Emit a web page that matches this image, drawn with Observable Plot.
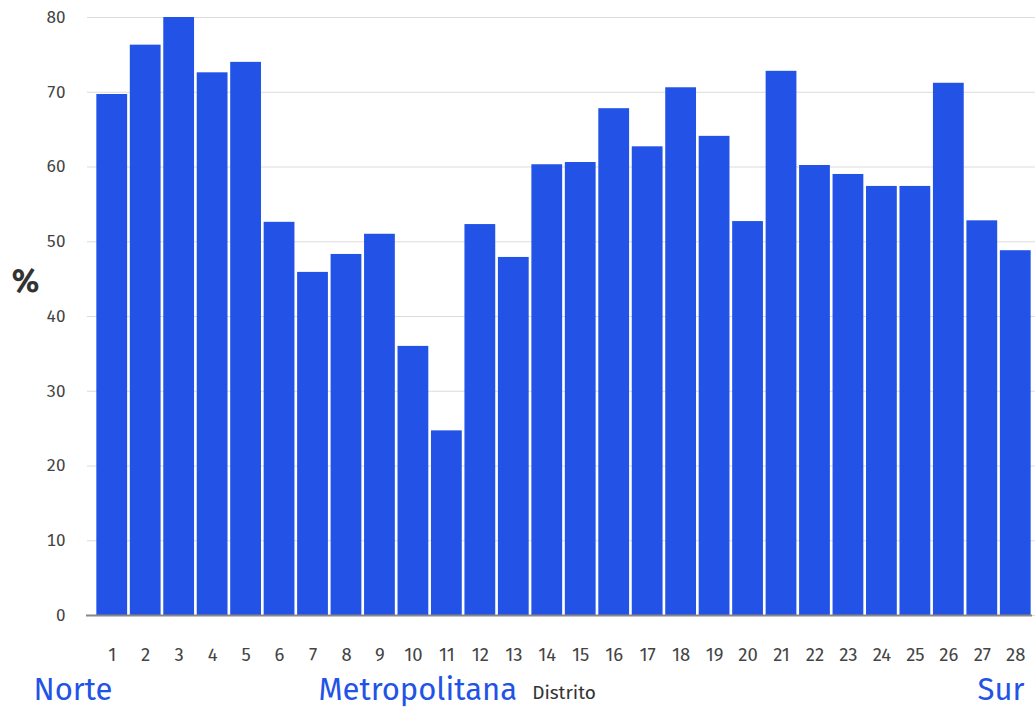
<!DOCTYPE html>
<html>
<head>
<meta charset="utf-8">
<script src="https://cdn.jsdelivr.net/npm/d3@7"></script>
<script src="https://cdn.jsdelivr.net/npm/@observablehq/plot@0.6"></script>
<style>
  html, body { margin: 0; padding: 0; background: #fff; }
  #chart { width: 1035px; height: 709px; }
  svg { font-family: "Fira Sans", Roboto, "Open Sans", sans-serif; }
</style>
</head>
<body>
<div id="chart"></div>
<script>
const distritos = [1,2,3,4,5,6,7,8,9,10,11,12,13,14,15,16,17,18,19,20,21,22,23,24,25,26,27,28];
const valores = [69.7,76.3,80.0,72.6,74.0,52.6,45.9,48.3,51.0,36.0,24.7,52.3,47.9,60.3,60.6,67.8,62.7,70.6,64.1,52.7,72.8,60.2,59.0,57.4,57.4,71.2,52.8,48.8];
const yTicks = [0,10,20,30,40,50,60,70,80];
const regiones = ["Norte", "Metropolitana", "Sur"];
const xLabel = "Distrito";
const yLabel = "%";

const data = distritos.map((d, i) => ({distrito: d, valor: valores[i]}));
const blue = "#2253e6";

const chart = Plot.plot({
  width: 1035,
  height: 709,
  marginLeft: 95,
  marginRight: 3,
  marginTop: 17,
  marginBottom: 94,
  style: {fontFamily: "'Fira Sans', Roboto, 'Open Sans', sans-serif", color: "#444", background: "#fff"},
  x: {domain: distritos, paddingInner: 0.08, paddingOuter: 0.04, round: false, label: null},
  y: {domain: [0, 80], label: null},
  marks: [
    Plot.gridY(yTicks, {stroke: "#dcdcdc", strokeOpacity: 1, strokeWidth: 1, insetLeft: -8, insetRight: -3}),
    Plot.barY(data, {x: "distrito", y: "valor", fill: blue}),
    Plot.ruleY([0], {stroke: "#888", strokeWidth: 2, insetLeft: -9}),
    Plot.axisY(yTicks, {tickSize: 0, tickPadding: 30, fontSize: 17, label: null, fill: "#444"}),
    Plot.axisX({tickSize: 0, tickPadding: 32, fontSize: 18.5, label: null, fill: "#444"}),
    Plot.text([yLabel], {frameAnchor: "left", dx: -70, dy: -35, fontSize: 32, fontWeight: "bold", fill: "#333", textAnchor: "middle"}),
    Plot.text([xLabel], {frameAnchor: "bottom", dy: 77, fontSize: 19, fill: "#333", textAnchor: "middle", lineAnchor: "middle"}),
    Plot.text([regiones[0]], {frameAnchor: "bottom-left", dx: -62, dy: 75, fontSize: 31, fill: blue, textAnchor: "start", lineAnchor: "middle", letterSpacing: "0.5px"}),
    Plot.text([regiones[1]], {frameAnchor: "bottom-left", dx: 223, dy: 75, fontSize: 31, fill: blue, textAnchor: "start", lineAnchor: "middle", letterSpacing: "0.5px"}),
    Plot.text([regiones[2]], {frameAnchor: "bottom-right", dx: -8, dy: 75, fontSize: 31, fill: blue, textAnchor: "end", lineAnchor: "middle", letterSpacing: "0.5px"})
  ]
});
document.getElementById("chart").appendChild(chart);
</script>
</body>
</html>
